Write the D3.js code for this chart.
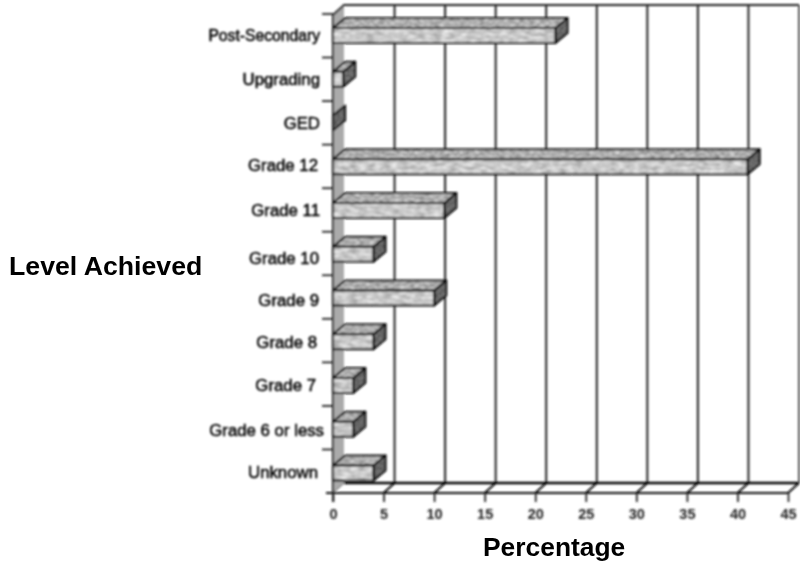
<!DOCTYPE html>
<html>
<head>
<meta charset="utf-8">
<script src="https://cdn.jsdelivr.net/npm/d3@7/dist/d3.min.js"></script>
<style>
html,body{margin:0;padding:0;background:#fff;}
svg{display:block;}
text{font-family:"Liberation Sans",Arial,sans-serif;}
</style>
</head>
<body>
<svg id="chart" width="800" height="567"></svg>
<script>
const levels = ["Post-Secondary","Upgrading","GED","Grade 12","Grade 11","Grade 10","Grade 9","Grade 8","Grade 7","Grade 6 or less","Unknown"];
const percentages = [22,1,0,41,11,4,10,4,2,2,4];
const xTicks = [0,5,10,15,20,25,30,35,40,45];

const floorY = 493, topY = 15;
const depthX = 11, depthY = -10;
const barH = 15, barDX = 12, barDY = -10;
const ink = "#3a3a3a";

const svg = d3.select("#chart");
const defs = svg.append("defs");

// Mottled print texture for the bar faces
function grain(id, seed, freq, low, high) {
  const f = defs.append("filter").attr("id", id)
    .attr("x", "0").attr("y", "0").attr("width", "100%").attr("height", "100%")
    .attr("color-interpolation-filters", "sRGB");
  f.append("feTurbulence").attr("type", "fractalNoise")
    .attr("baseFrequency", freq).attr("numOctaves", 2).attr("seed", seed).attr("result", "n");
  f.append("feColorMatrix").attr("in", "n").attr("type", "matrix")
    .attr("values", "1.2 0 0 0 -0.1  1.2 0 0 0 -0.1  1.2 0 0 0 -0.1  0 0 0 0 1").attr("result", "g");
  const c = f.append("feComponentTransfer").attr("in", "g").attr("result", "t");
  ["feFuncR","feFuncG","feFuncB"].forEach(k => c.append(k).attr("type","linear")
    .attr("slope", high - low).attr("intercept", low));
  f.append("feComposite").attr("in", "t").attr("in2", "SourceAlpha").attr("operator", "in");
}
grain("grainFront", 3, "0.12 0.3", 0.6, 0.98);
grain("grainTop", 7, "0.2 0.5", 0.42, 0.95);
grain("grainSide", 11, "0.4", 0.25, 0.55);

// Softness across the drawing, as in a scanned print
const soft = defs.append("filter").attr("id", "soft")
  .attr("filterUnits", "userSpaceOnUse")
  .attr("x", 0).attr("y", 0).attr("width", 800).attr("height", 567);
soft.append("feGaussianBlur").attr("stdDeviation", 1);

const x = d3.scaleLinear().domain([0, 45]).range([333, 788]);
const yTick = d3.scalePoint().domain(d3.range(levels.length + 1)).range([14, 493]);
const yBar = d3.scalePoint().domain(levels).range([35.5, 473]);

const g = svg.append("g").attr("filter", "url(#soft)");

// Shaded left wall of the plot box
g.append("path")
  .attr("d", d3.line()([[x(0), topY],[x(0)+depthX, topY+depthY],[x(0)+depthX, floorY+depthY],[x(0), floorY]]) + "Z")
  .attr("fill", "#aaaaaa").attr("stroke", "none");

// Gridlines on the back wall, continued across the floor to the front axis
xTicks.slice(1).forEach(t => {
  g.append("line").attr("x1", x(t)+depthX).attr("x2", x(t)+depthX)
    .attr("y1", topY+depthY).attr("y2", floorY+depthY)
    .attr("stroke", t === 45 ? "#555" : "#222").attr("stroke-width", 2);
  g.append("line").attr("x1", x(t)).attr("x2", x(t)+depthX)
    .attr("y1", floorY).attr("y2", floorY+depthY)
    .attr("stroke", "#111").attr("stroke-width", 2);
});

// Box outline
g.append("path")
  .attr("d", d3.line()([[x(0), floorY],[x(0), topY],[x(0)+depthX, topY+depthY],[x(45)+depthX, topY+depthY]]))
  .attr("fill", "none").attr("stroke", "#222").attr("stroke-width", 2);
g.append("line").attr("x1", x(0)+depthX).attr("x2", x(45)+depthX)
  .attr("y1", floorY+depthY).attr("y2", floorY+depthY)
  .attr("stroke", "#000").attr("stroke-width", 2.6);
g.append("line").attr("x1", x(0)).attr("x2", x(0)+depthX)
  .attr("y1", floorY).attr("y2", floorY+depthY)
  .attr("stroke", "#888").attr("stroke-width", 1.2);

// Bars: front, top and end faces
const face = pts => d3.line()(pts) + "Z";
const bars = g.append("g").selectAll("g").data(levels).join("g");
bars.each(function (d, i) {
  const b = d3.select(this);
  const v = percentages[i];
  const x0 = x(0), x1 = x(v);
  const yt = yBar(d) - barH / 2, yb = yt + barH;
  const pieces = [
    { pts: [[x1,yt],[x1+barDX,yt+barDY],[x1+barDX,yb+barDY],[x1,yb]], f: "grainSide" }
  ];
  if (v > 0) {
    pieces.push({ pts: [[x0,yt],[x0+barDX,yt+barDY],[x1+barDX,yt+barDY],[x1,yt]], f: "grainTop" });
    pieces.push({ pts: [[x0,yt],[x1,yt],[x1,yb],[x0,yb]], f: "grainFront" });
  }
  pieces.forEach(p => {
    b.append("path").attr("d", face(p.pts)).attr("fill", "#000").attr("filter", `url(#${p.f})`);
    b.append("path").attr("d", face(p.pts)).attr("fill", "none")
      .attr("stroke", "#111").attr("stroke-width", 2.2).attr("stroke-linejoin", "round");
  });
});

// Front floor edge and value axis
g.append("line").attr("x1", x(0)-7).attr("x2", x(45))
  .attr("y1", floorY).attr("y2", floorY)
  .attr("stroke", "#111").attr("stroke-width", 2.2);
const xAxis = d3.axisBottom(x).tickValues(xTicks).tickSize(9).tickPadding(7).tickSizeOuter(0);
const ax = g.append("g").attr("transform", `translate(0,${floorY})`).call(xAxis);
ax.select(".domain").remove();
ax.selectAll("line").attr("stroke", "#222").attr("stroke-width", 1.8);
ax.selectAll("text").attr("font-size", 14.5).attr("font-weight", "bold")
  .attr("font-family", '"Liberation Sans",Arial,sans-serif').attr("fill", "#222");

// Category axis
g.append("line").attr("x1", x(0)).attr("x2", x(0)).attr("y1", topY).attr("y2", floorY+9)
  .attr("stroke", "#222").attr("stroke-width", 2);
g.append("g").selectAll("line").data(d3.range(levels.length)).join("line")
  .attr("x1", x(0)-11).attr("x2", x(0))
  .attr("y1", d => yTick(d)).attr("y2", d => yTick(d))
  .attr("stroke", "#222").attr("stroke-width", 1.8);

// Category labels sit slightly unevenly against the axis
const labelShift = { "Grade 12": [-2, -1], "Grade 10": [-1, 4], "Grade 9": [-1, 2], "Grade 8": [-3, 1], "Grade 7": [-4, 0], "Grade 6 or less": [4, 1], "Unknown": [-2, -1] };
g.append("g").selectAll("text").data(levels).join("text")
  .attr("x", d => 320 + (labelShift[d] ? labelShift[d][0] : 0))
  .attr("y", d => yBar(d) + 5.5 + (labelShift[d] ? labelShift[d][1] : 0))
  .attr("text-anchor", "end").attr("font-size", d => d === "Post-Secondary" ? 15.7 : 16.8)
  .attr("fill", "#000").attr("stroke", "#000").attr("stroke-width", 0.5)
  .text(d => d);

// Axis titles
svg.append("text").attr("x", 9).attr("y", 274.5)
  .attr("font-size", 26.7).attr("font-weight", "bold").attr("fill", "#000").text("Level Achieved");
svg.append("text").attr("x", 483).attr("y", 555.5)
  .attr("font-size", 26.4).attr("font-weight", "bold").attr("fill", "#000").text("Percentage");
</script>
</body>
</html>
